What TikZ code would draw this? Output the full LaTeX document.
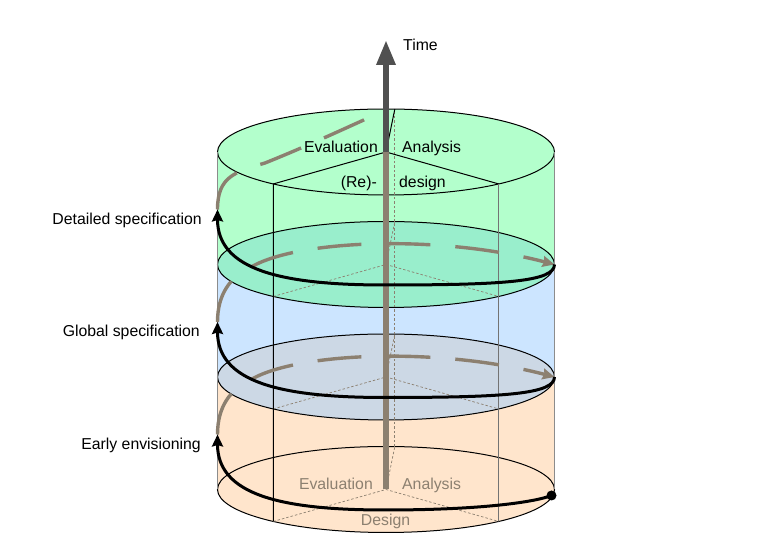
\documentclass[tikz,border=0pt]{standalone}
\usepackage{fontspec}
\setmainfont{Liberation Sans}
\usetikzlibrary{arrows.meta}
\usetikzlibrary{calc}

\definecolor{topgreen}{HTML}{B3FFCC}
\definecolor{lidgreen}{HTML}{99EECC}
\definecolor{midblue}{HTML}{CCE5FF}
\definecolor{lidblue}{HTML}{CCD8E5}
\definecolor{lowpeach}{HTML}{FFE5CC}
\definecolor{axisgray}{HTML}{8C8070}
\definecolor{timegray}{HTML}{505050}

\begin{document}
\begin{tikzpicture}[x=1pt,y=1pt,
        every node/.style={inner sep=0pt, font=\fontsize{15.8}{18}\selectfont},
        rim/.style={draw=black, line width=1pt},
        hidden/.style={draw=axisgray, line width=0.7pt, dash pattern=on 2.5pt off 2pt},
        front/.style={line width=3pt, -{Stealth[length=12pt,width=11pt,inset=1.5pt]}},
        behind/.style={draw=axisgray, line width=3.4pt, dash pattern=on 44pt off 25pt},
        faint/.style={text=axisgray}]
        \useasboundingbox (0,0) rectangle (772,556);
        % points of each level, bottom (0) to top (3)
        \foreach \n/\y in {0/66.5,1/179,2/291.5,3/404}{
          \coordinate (c\n) at (386,\y);
          \coordinate (l\n) at (217.5,\y);
          \coordinate (r\n) at (554.5,\y);
          \coordinate (fl\n) at ($(c\n)+(228:168.5 and 43)$);
          \coordinate (fr\n) at ($(c\n)+(312:168.5 and 43)$);
          \coordinate (bk\n) at ($(c\n)+(87:168.5 and 43)$);
          \coordinate (ft\n) at (385,\y-20.5);
          \coordinate (tp\n) at (217.5,\y+55);
          \coordinate (gs\n) at (252,\y-2);
        }
        \coordinate (gt) at (265,393);
        \coordinate (tt) at (386,446);
        \coordinate (tm) at (386,516);
        \coordinate (st) at (551.5,60.5);

        % the three stacked phases
        \fill[lowpeach] (l1) -- (l0) arc[start angle=180,end angle=360,x radius=168.5pt,y radius=43pt] -- (r1) -- cycle;
        \draw[rim] (c0) ellipse[x radius=168.5pt,y radius=43pt];
        \fill[midblue] (l2) -- (l1) arc[start angle=180,end angle=360,x radius=168.5pt,y radius=43pt] -- (r2) -- cycle;
        \filldraw[rim, fill=lidblue] (c1) ellipse[x radius=168.5pt,y radius=43pt];
        \fill[topgreen] (l3) -- (l2) arc[start angle=180,end angle=360,x radius=168.5pt,y radius=43pt] -- (r3) -- cycle;
        \filldraw[rim, fill=lidgreen] (c2) ellipse[x radius=168.5pt,y radius=43pt];
        \filldraw[rim, fill=topgreen] (c3) ellipse[x radius=168.5pt,y radius=43pt];
        \draw[black!45, line width=1.2pt] (l0) -- (l3) (r0) -- (r3);

        % hidden edges
        \draw[hidden] (bk0) -- (bk3);
        \foreach \n in {0,1,2}
          \draw[hidden] (fl\n) -- (c\n) -- (fr\n) (c\n) -- (bk\n);
        \draw[line width=1pt] (fl0) -- (fl3) -- (c3) -- (fr3) (c3) -- (bk3);
        \draw[black!55, line width=1pt] (fr0) -- (fr3);

        % spiral, back part
        \foreach \n/\m in {1/0,2/1}
          \draw[behind, -{Stealth[length=12pt,width=11pt,inset=1.5pt]}] (tp\m) .. controls +(0,27.5) and +(-22,-10) .. (gs\n) .. controls +(48,27) and +(-114.5,30) .. (r\n);
        \draw[behind] (tp2) .. controls +(0,33) and +(-30,-9) .. (gt) .. controls +(45,18) and +(-36,-16) .. (tt);

        % time
        \draw[axisgray, line width=5.5pt] (c0) -- (c3);
        \draw[timegray, line width=6pt, -{Triangle[length=25pt,width=18pt]}] (c3) -- (tm);

        % spiral, front part
        \foreach \n in {1,2}
          \draw[front] (r\n) .. controls +(0,-17) and +(120,0) .. (ft\n) .. controls +(-105,0) and +(0,-60) .. (tp\n);
        \draw[front] (st) .. controls +(-15,-6) and +(100,0) .. (ft0) .. controls +(-105,0) and +(0,-60) .. (tp0);
        \fill (st) circle[radius=5pt];

        \node[anchor=base west] (time) at (403,505) {Time};
        \node[anchor=base east] (eval) at (378,403) {Evaluation};
        \node[anchor=base west] (anal) at (402,403) {Analysis};
        \node[anchor=base east] (rede) at (377,368) {(Re)-};
        \node[anchor=base west] (desg) at (399,368) {design};
        \node[faint, anchor=base east] (evalb) at (373,66) {Evaluation};
        \node[faint, anchor=base west] (analb) at (402,66) {Analysis};
        \node[faint, anchor=base] (desgb) at (385.5,30) {Design};
        \node[anchor=base east] (detail) at (202,331) {Detailed specification};
        \node[anchor=base east] (global) at (200,219.3) {Global specification};
        \node[anchor=base east] (early) at (201,106.7) {Early envisioning};
      \end{tikzpicture}
\end{document}
